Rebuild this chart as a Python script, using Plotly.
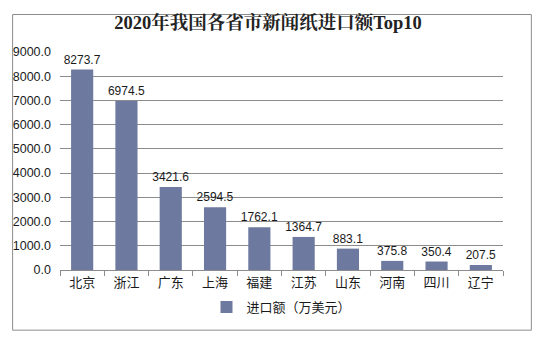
import plotly.graph_objects as go

provinces = ["北京", "浙江", "广东", "上海", "福建", "江苏", "山东", "河南", "四川", "辽宁"]
values = [8273.7, 6974.5, 3421.6, 2594.5, 1762.1, 1364.7, 883.1, 375.8, 350.4, 207.5]
y_ticks = [0, 1000, 2000, 3000, 4000, 5000, 6000, 7000, 8000, 9000]
series_name = "进口额（万美元）"
title_text = "<b>2020年我国各省市新闻纸进口额Top10</b>"

bar_color = "#6e799f"
sans = "Liberation Sans, Arial, Noto Sans CJK SC, sans-serif"

fig = go.Figure()
fig.add_trace(go.Bar(
    x=provinces, y=values, name=series_name,
    marker=dict(color=bar_color, line=dict(width=0)),
    width=0.5,
    text=[f"{v:.1f}" for v in values], textposition="outside",
    constraintext="none",
    textfont=dict(size=12, color="#1a1a1a", family=sans),
    cliponaxis=False,
))

fig.update_layout(
    width=536, height=339,
    margin=dict(l=60, r=33, t=52, b=69),
    paper_bgcolor="white", plot_bgcolor="white",
    title=dict(text=title_text, x=0.5, xanchor="center", y=0.935, yanchor="middle",
               font=dict(family="Liberation Serif, Noto Serif CJK SC, Noto Sans CJK SC, serif",
                         size=18.5, color="#222222")),
    showlegend=True,
    legend=dict(orientation="h", x=0.5, xanchor="center", y=-0.17, yanchor="middle",
                font=dict(size=13, family="Noto Sans CJK SC, sans-serif", color="#1a1a1a"),
                itemwidth=30),
    xaxis=dict(showline=True, linecolor="#8c8c8c", linewidth=1,
               ticks="outside", ticklen=5, tickcolor="#8c8c8c", tickson="boundaries",
               tickfont=dict(size=13, family="Noto Sans CJK SC, sans-serif", color="#1a1a1a")),
    yaxis=dict(range=[0, 9000], tickvals=y_ticks, ticktext=[f"{v:.1f}" for v in y_ticks],
               showgrid=True, gridcolor="#8c8c8c", gridwidth=1, zeroline=False,
               showline=False, ticks="", ticklabelstandoff=8,
               tickfont=dict(size=12.5, family=sans, color="#1a1a1a")),
    bargap=0.5,
    shapes=[dict(type="rect", xref="paper", yref="paper", x0=-0.107, x1=1.064, y0=-0.276, y1=1.172,
                 line=dict(color="#8c8c8c", width=1))],
)
fig.write_html("out.html")
